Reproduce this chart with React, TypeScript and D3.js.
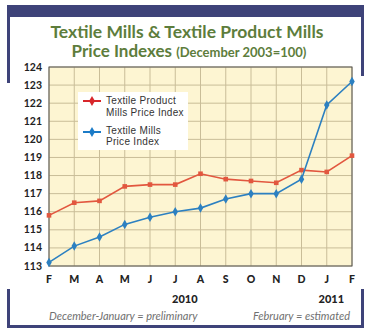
import React from "react";
import * as d3 from "d3";

const months = ["F", "M", "A", "M", "J", "J", "A", "S", "O", "N", "D", "J", "F"];
const productMills = [115.8, 116.5, 116.6, 117.4, 117.5, 117.5, 118.1, 117.8, 117.7, 117.6, 118.3, 118.2, 119.1];
const textileMills = [113.2, 114.1, 114.6, 115.3, 115.7, 116.0, 116.2, 116.7, 117.0, 117.0, 117.8, 121.9, 123.2];
const yTicks = [113, 114, 115, 116, 117, 118, 119, 120, 121, 122, 123, 124];
const years = [
  { label: "2010", idx: 5.5 },
  { label: "2011", idx: 11.3 },
];
const legendItems = [
  { lines: ["Textile Product", "Mills Price Index"], color: "#d8262b" },
  { lines: ["Textile Mills", "Price Index"], color: "#1b7bc7" },
];

const W = 371;
const H = 335;
const L = 49, R = 352, T = 67, B = 266;
const NAVY = "#3e4379";
const GREEN = "#5d7d3c";
const RED = "#e2573f";
const BLUE = "#2c80c1";
const FONT = "Lato, 'Open Sans', sans-serif";
const LFONT = "'Liberation Sans', Arial, sans-serif";

export default function App() {
  const x = d3.scaleLinear().domain([0, months.length - 1]).range([L, R]);
  const y = d3.scaleLinear().domain([113, 124]).range([B, T]);
  const line = d3.line<number>().x((_, i) => x(i)).y((d) => y(d));

  return (
    <svg width={W} height={H} style={{ position: "absolute", left: 0, top: 0, background: "#fff" }}>
      {/* frame */}
      <rect x={7} y={5} width={357} height={12} fill={NAVY} />
      <rect x={7} y={5} width={3} height={78} fill={NAVY} />
      <rect x={361} y={5} width={3} height={71} fill={NAVY} />
      <rect x={7} y={289} width={3} height={39} fill={NAVY} />
      <rect x={361} y={289} width={3} height={39} fill={NAVY} />
      <rect x={7} y={325} width={357} height={3} fill={NAVY} />

      {/* title */}
      <text x={187} y={38} textAnchor="middle" fontFamily={FONT} fontWeight={700} fontSize={17.5} fill={GREEN}>
        Textile Mills &amp; Textile Product Mills
      </text>
      <text x={189} y={57} textAnchor="middle" fontFamily={FONT} fontWeight={700} fill={GREEN}>
        <tspan fontSize={17}>Price Indexes </tspan>
        <tspan fontSize={13}>(December 2003=100)</tspan>
      </text>

      {/* plot bg */}
      <rect x={L} y={T} width={R - L} height={B - T} fill="#fdf5d2" />
      {yTicks.map((t) => (
        <line key={"h" + t} x1={L} x2={R} y1={y(t)} y2={y(t)} stroke="#c9bd98" strokeWidth={1} />
      ))}
      {months.map((_, i) => (
        <line key={"v" + i} x1={x(i)} x2={x(i)} y1={T} y2={B} stroke="#c9bd98" strokeWidth={1} />
      ))}
      <rect x={L} y={T} width={R - L} height={B - T} fill="none" stroke="#555" strokeWidth={1} />

      {/* y labels */}
      {yTicks.map((t) => (
        <text key={"yl" + t} x={42} y={y(t) + 3.5} textAnchor="end" fontFamily={FONT} fontWeight={700} fontSize={10.5} fill="#222">
          {t}
        </text>
      ))}
      {/* x labels */}
      {months.map((m, i) => (
        <text key={"xl" + i} x={x(i)} y={283} textAnchor="middle" fontFamily={FONT} fontWeight={900} fontSize={10.5} fill="#222">
          {m}
        </text>
      ))}
      {years.map((yr) => (
        <text key={yr.label} x={x(yr.idx) - 3} y={303} textAnchor="middle" fontFamily={FONT} fontWeight={900} fontSize={11} fill="#222">
          {yr.label}
        </text>
      ))}
      <text x={49} y={320} fontFamily={FONT} fontStyle="italic" fontSize={11} fill="#707070">
        December-January = preliminary
      </text>
      <text x={350} y={320} textAnchor="end" fontFamily={FONT} fontStyle="italic" fontSize={11} fill="#707070">
        February = estimated
      </text>

      {/* legend */}
      <rect x={78} y={92} width={110} height={58} fill="#fff" />
      {legendItems.map((it, k) => {
        const cy = 101 + k * 31;
        return (
          <g key={"lg" + k}>
            <line x1={83} x2={101} y1={cy} y2={cy} stroke={it.color} strokeWidth={2} />
            <path d={d3.symbol(d3.symbolDiamond, 30)() as string} transform={`translate(92,${cy})`} fill={it.color} />
            <text x={106} y={cy + 3 - k * 1.5} fontFamily={LFONT} fontSize={10} letterSpacing={0.3} fill="#333">
              <tspan x={106}>{it.lines[0]}</tspan>
              <tspan x={106} dy={11.6}>{it.lines[1]}</tspan>
            </text>
          </g>
        );
      })}

      {/* series */}
      <path d={line(productMills) as string} fill="none" stroke={RED} strokeWidth={1.6} />
      {productMills.map((v, i) => (
        <rect key={"pr" + i} x={x(i) - 2.3} y={y(v) - 2.3} width={4.6} height={4.6} fill={RED} />
      ))}
      <path d={line(textileMills) as string} fill="none" stroke={BLUE} strokeWidth={1.6} />
      {textileMills.map((v, i) => (
        <path key={"tm" + i} d={d3.symbol(d3.symbolDiamond, 26)() as string} transform={`translate(${x(i)},${y(v)})`} fill={BLUE} />
      ))}
    </svg>
  );
}
